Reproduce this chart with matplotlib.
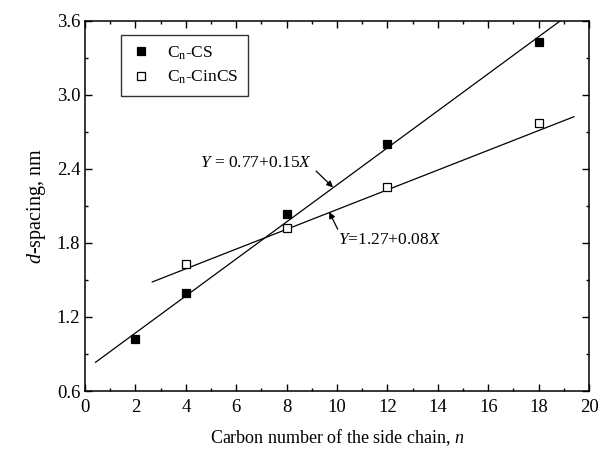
import matplotlib
matplotlib.use("Agg")
import matplotlib.pyplot as plt
import numpy as np

plt.rcParams["font.family"] = ["Liberation Serif", "DejaVu Serif"]
plt.rcParams["mathtext.fontset"] = "custom"
plt.rcParams["mathtext.rm"] = "Liberation Serif"
plt.rcParams["mathtext.it"] = "Liberation Serif:italic"

# data
n_cs = [2, 4, 8, 12, 18]
d_cs = [1.02, 1.39, 2.03, 2.60, 3.43]
n_cincs = [4, 8, 12, 18]
d_cincs = [1.63, 1.92, 2.25, 2.77]

# linear fits as printed on the chart (intercept, slope, x range)
fit_cs = (0.77, 0.15)
fit_cs_x = [0.42, 18.87]
fit_cincs = (1.27, 0.08)
fit_cincs_x = [2.67, 19.4]

x_ticks = [0, 2, 4, 6, 8, 10, 12, 14, 16, 18, 20]
y_ticks = [0.6, 1.2, 1.8, 2.4, 3.0, 3.6]

fig = plt.figure(figsize=(6.0, 4.57), dpi=100)
ax = fig.add_axes([0.1417, 0.1444, 0.84, 0.8103])

for (b, k), xs in [(fit_cs, fit_cs_x), (fit_cincs, fit_cincs_x)]:
    xs = np.array(xs)
    ax.plot(xs, b + k * xs, color="black", lw=0.9, zorder=2)

ax.plot(n_cs, d_cs, ls="none", marker="s", ms=5.5, mfc="black", mec="black",
        mew=0.9, label=r"C$_\mathrm{n}$-CS", zorder=3)
ax.plot(n_cincs, d_cincs, ls="none", marker="s", ms=5.5, mfc="white", mec="black",
        mew=0.9, label=r"C$_\mathrm{n}$-CinCS", zorder=3)

ax.set_xlim(0, 20)
ax.set_ylim(0.6, 3.6)
ax.set_xticks(x_ticks)
ax.set_yticks(y_ticks)
ax.set_yticklabels([f"{v:.1f}" for v in y_ticks])
ax.set_xticks(np.arange(1, 20, 2), minor=True)
ax.set_yticks(np.arange(0.9, 3.6, 0.6), minor=True)
ax.tick_params(which="both", direction="in", top=True, right=True, labelsize=13.5, width=1.0)
ax.tick_params(which="major", length=5)
ax.tick_params(which="minor", length=2.5)
ax.tick_params(axis="x", pad=6)
for sp in ax.spines.values():
    sp.set_linewidth(1.1)

ax.set_xlabel(r"Carbon number of the side chain, $n$", fontsize=13, labelpad=8)
ax.set_ylabel(r"$d$-spacing, nm", fontsize=14.5, labelpad=6)

ax.annotate(r"$Y$ = 0.77+0.15$X$", xy=(9.84, 2.25), xytext=(6.77, 2.447),
            ha="center", va="center", fontsize=12.5,
            arrowprops=dict(arrowstyle="-|>", color="black", lw=0.9,
                            mutation_scale=9, shrinkA=0, shrinkB=0,
                            relpos=(1.04, 0.0)))
ax.annotate(r"$Y$=1.27+0.08$X$", xy=(9.69, 2.05), xytext=(12.1, 1.823),
            ha="center", va="center", fontsize=12.5,
            arrowprops=dict(arrowstyle="-|>", color="black", lw=0.9,
                            mutation_scale=9, shrinkA=0, shrinkB=0,
                            relpos=(0.0, 1.1)))

leg = ax.legend(loc="upper left", bbox_to_anchor=(0.071, 0.962), borderaxespad=0,
                fontsize=12.5, frameon=True, fancybox=False, edgecolor="black",
                handletextpad=0.9, handlelength=1.2, borderpad=0.55, labelspacing=0.4)
leg.get_frame().set_linewidth(1.0)

fig.savefig("out.png", dpi=100)
